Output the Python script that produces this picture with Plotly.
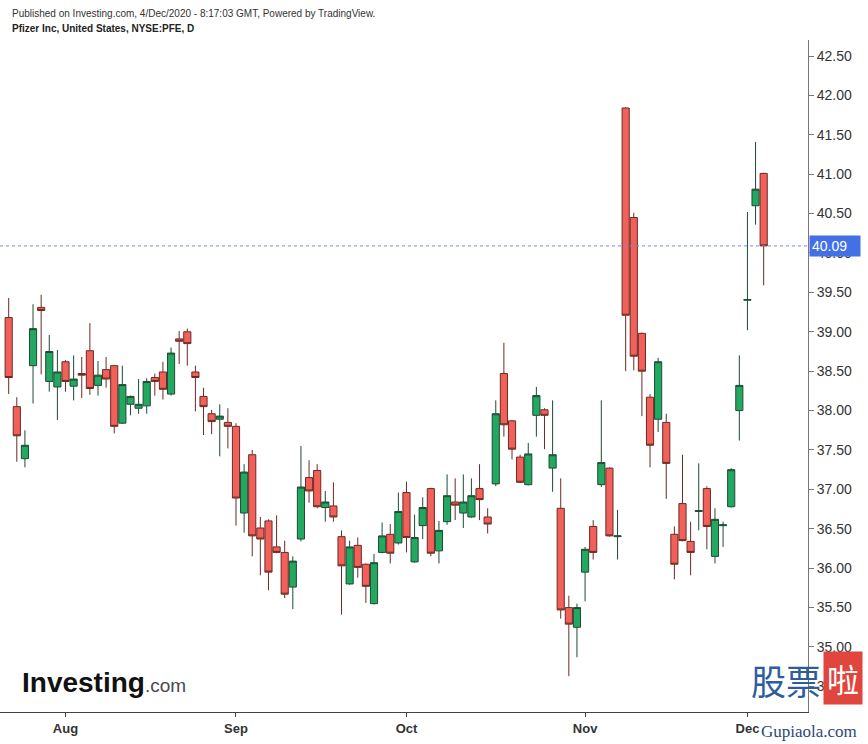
import plotly.graph_objects as go
import pandas as pd

# ---- data ----
holidays = ["2020-09-07", "2020-11-26"]
dates = [d.strftime("%Y-%m-%d") for d in pd.bdate_range("2020-07-23", "2020-12-03")
         if d.strftime("%Y-%m-%d") not in holidays]

opens = [39.18, 38.05, 37.39, 38.57, 39.31, 38.37, 38.30,
         38.62, 38.31, 38.47, 38.76, 38.32, 38.52, 38.57, 37.84, 38.08, 38.03, 38.06,
         38.42, 38.49, 38.21, 38.91, 39.00, 38.49, 38.18, 37.96, 37.89, 37.85,
         37.80, 36.70, 37.44, 36.51, 36.60, 36.27, 36.20, 35.76, 36.37, 37.15, 37.24,
         36.77, 36.79, 36.40, 35.80, 36.29, 36.05, 35.55, 36.20, 36.43, 36.32,
         36.96, 36.08, 36.54, 37.01, 36.22, 36.59, 36.84, 36.70, 36.65, 37.01, 36.65,
         37.07, 38.47, 37.87, 37.41, 37.06, 37.94, 38.01, 37.27, 36.76, 35.50, 35.25,
         35.95, 36.53, 37.06, 37.27, 36.40, 41.84, 40.45, 38.98, 38.17, 37.89, 37.85,
         36.43, 36.82, 36.34, 36.72, 37.01, 36.15, 36.54, 36.78, 38.00,
         39.40, 40.60, 41.01]
highs = [39.43, 38.17, 37.75, 39.35, 39.47, 38.96, 38.77,
         38.64, 38.70, 38.68, 39.11, 38.63, 38.68, 38.58, 38.57, 38.19, 38.40, 38.41,
         38.47, 38.62, 38.80, 39.01, 39.04, 38.57, 38.29, 38.01, 38.08, 38.03,
         37.84, 37.32, 37.50, 36.65, 36.62, 36.67, 36.35, 36.15, 37.55, 37.37, 37.32,
         36.98, 37.09, 36.48, 36.35, 36.39, 36.06, 36.18, 36.58, 36.56, 36.96,
         37.10, 36.68, 36.90, 37.02, 36.60, 37.19, 37.14, 37.19, 37.14, 37.32, 36.76,
         38.13, 38.86, 37.88, 37.44, 37.59, 38.30, 38.03, 38.13, 37.14, 35.65, 35.55,
         36.27, 36.61, 38.13, 37.28, 36.74, 41.85, 40.51, 38.99, 38.21, 38.67, 37.96,
         36.53, 37.44, 36.59, 37.33, 37.04, 36.76, 36.59, 37.27, 38.70,
         40.52, 41.41, 41.02]
lows = [38.21, 37.35, 37.28, 38.09, 38.46, 38.24, 37.88,
        38.24, 38.13, 38.16, 38.20, 38.19, 38.29, 37.71, 37.83, 37.94, 37.96, 37.96,
        38.19, 38.14, 38.19, 38.59, 38.57, 37.99, 37.69, 37.70, 37.42, 37.52,
        36.54, 36.45, 36.15, 35.91, 35.72, 36.19, 35.62, 35.48, 36.34, 36.83, 36.76,
        36.59, 36.59, 35.41, 35.79, 35.88, 35.56, 35.54, 36.19, 36.06, 36.30,
        36.20, 36.07, 36.37, 36.15, 36.06, 36.55, 36.61, 36.51, 36.64, 36.61, 36.44,
        37.04, 37.67, 37.38, 37.08, 37.05, 37.67, 37.51, 36.97, 35.36, 34.63, 34.87,
        35.58, 36.11, 37.03, 36.40, 36.11, 38.50, 38.51, 37.93, 37.28, 37.73, 36.88,
        35.86, 36.34, 35.91, 36.48, 36.24, 36.06, 36.27, 36.77, 37.62,
        39.02, 40.36, 39.59]
closes = [38.42, 37.68, 37.56, 39.04, 39.27, 38.75, 38.49,
          38.37, 38.40, 38.45, 38.28, 38.45, 38.40, 37.80, 38.33, 38.18, 38.08, 38.37,
          38.37, 38.27, 38.73, 38.88, 38.85, 38.42, 38.05, 37.86, 37.93, 37.80,
          36.89, 37.22, 36.41, 36.37, 35.95, 36.20, 35.67, 36.09, 37.03, 36.98, 36.78,
          36.84, 36.65, 36.03, 36.27, 36.01, 35.77, 36.07, 36.41, 36.19, 36.72,
          36.39, 36.39, 36.77, 36.19, 36.48, 36.92, 36.80, 36.84, 36.92, 36.87, 36.56,
          37.96, 37.82, 37.51, 37.09, 37.45, 38.19, 37.94, 37.44, 35.47, 35.29, 35.50,
          36.24, 36.20, 37.34, 36.41, 36.41, 39.21, 38.69, 38.50, 37.56, 38.62, 37.33,
          36.05, 36.35, 36.20, 36.73, 36.53, 36.62, 36.55, 37.25, 38.32,
          39.41, 40.81, 40.09]

month_ticks = ["2020-08-03", "2020-09-01", "2020-10-01", "2020-11-02", "2020-12-01"]
month_labels = ["Aug", "Sep", "Oct", "Nov", "Dec"]
price_ticks = [34.5, 35.0, 35.5, 36.0, 36.5, 37.0, 37.5, 38.0, 38.5, 39.0,
               39.5, 40.0, 40.5, 41.0, 41.5, 42.0, 42.5]
last_price = 40.09

# ---- layout geometry (pixels) ----
W, H = 868, 744
PL, PR, PT, PB = 0, 808, 40, 712


def px(x):
    return (x - PL) / (PR - PL)


def py(y):
    return (PB - y) / (PB - PT)


FONT = "Liberation Sans, Arial, sans-serif"

fig = go.Figure()
fig.add_trace(go.Candlestick(
    x=dates, open=opens, high=highs, low=lows, close=closes,
    increasing=dict(fillcolor="#22a860", line=dict(color="#1f4a33", width=1)),
    decreasing=dict(fillcolor="#f2605a", line=dict(color="#6a2b25", width=1)),
    whiskerwidth=0,
    showlegend=False,
))

fig.add_shape(type="line", xref="paper", yref="y", x0=0, x1=1,
              y0=last_price, y1=last_price,
              line=dict(color="#7390e6", width=1, dash="dot"))

annotations = [
    dict(text="Published on Investing.com, 4/Dec/2020 - 8:17:03 GMT, Powered by TradingView.",
         x=px(10), y=py(13), xanchor="left", yanchor="middle",
         font=dict(size=10, color="#333", family=FONT)),
    dict(text="<b>Pfizer Inc, United States, NYSE:PFE, D</b>",
         x=px(10), y=py(29), xanchor="left", yanchor="middle",
         font=dict(size=10, color="#222", family=FONT)),
    dict(text="<b>Investing</b><span style='font-size:19px;color:#4a4a4a'>.com</span>",
         x=px(20), y=py(682), xanchor="left", yanchor="middle",
         font=dict(size=28, color="#111", family=FONT)),
    dict(text="股票", x=px(786), y=py(679), xanchor="center", yanchor="middle",
         font=dict(size=35, color="#2d5c9f", family="Noto Sans CJK SC")),
    dict(text="啦", x=px(843), y=py(678), xanchor="center", yanchor="middle",
         bgcolor="#e0463d", borderpad=3,
         font=dict(size=32, color="white", family="Noto Sans CJK SC")),
    dict(text="Gupiaola.com", x=px(809), y=py(731), xanchor="center", yanchor="middle",
         font=dict(size=17, color="#2c4a78", family="Liberation Serif, DejaVu Serif, serif")),
]
for a in annotations:
    a.update(xref="paper", yref="paper", showarrow=False)

annotations.append(dict(text=f"{last_price:.2f}", xref="paper", yref="y",
                        x=1, y=last_price, xanchor="left", yanchor="middle",
                        xshift=1, showarrow=False, bgcolor="#4470e6", borderpad=2,
                        width=46, align="left",
                        font=dict(size=14, color="white", family=FONT)))

fig.update_layout(
    width=W, height=H,
    margin=dict(l=PL, r=W - PR, t=PT, b=H - PB),
    paper_bgcolor="white", plot_bgcolor="white",
    showlegend=False,
    boxgap=0.12, boxgroupgap=0.0,
    annotations=annotations,
    xaxis=dict(
        type="category", range=[-1.07, 98.46],
        rangeslider=dict(visible=False),
        showgrid=False, zeroline=False,
        showline=True, linecolor="#444", linewidth=1,
        ticks="outside", ticklen=4, tickcolor="#444",
        tickvals=month_ticks, ticktext=[f"<b>{m}</b>" for m in month_labels],
        tickfont=dict(size=13, color="#333", family=FONT),
    ),
    yaxis=dict(
        side="right", range=[34.175, 42.703],
        showgrid=False, zeroline=False,
        showline=True, linecolor="#777", linewidth=1,
        ticks="outside", ticklen=5, tickcolor="#777",
        tickvals=price_ticks, ticktext=[f"{v:.2f}" for v in price_ticks],
        tickfont=dict(size=14, color="#333", family=FONT),
    ),
)

fig.write_html("out.html")
